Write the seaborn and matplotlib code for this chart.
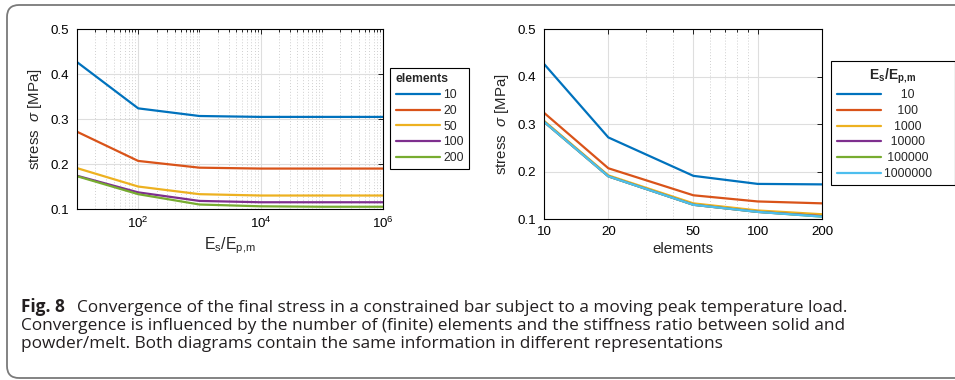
import numpy as np
import pandas as pd
import matplotlib
matplotlib.use("Agg")
import matplotlib.pyplot as plt
import seaborn as sns
from matplotlib.ticker import FixedLocator, FixedFormatter, NullFormatter, LogFormatterSciNotation
from matplotlib.patches import FancyBboxPatch
from matplotlib.transforms import IdentityTransform
from matplotlib.lines import Line2D

# ---------------- data ----------------
ratios = [10, 100, 1000, 10000, 100000, 1000000]
elements = [10, 20, 50, 100, 200]
stress_e10 = [0.427, 0.324, 0.307, 0.305, 0.305, 0.305]
stress_e20 = [0.272, 0.207, 0.192, 0.190, 0.190, 0.190]
stress_e50 = [0.191, 0.150, 0.133, 0.130, 0.130, 0.130]
stress_e100 = [0.174, 0.137, 0.118, 0.115, 0.115, 0.115]
stress_e200 = [0.173, 0.133, 0.110, 0.106, 0.105, 0.105]
stress_by_elements = [stress_e10, stress_e20, stress_e50, stress_e100, stress_e200]

yticks = [0.1, 0.2, 0.3, 0.4, 0.5]
left_xticks = [1e2, 1e4, 1e6]
right_xticks = [10, 20, 50, 100, 200]
right_minor = [30, 40, 60, 70, 80, 90]

caption_bold = "Fig. 8"
caption_lines = [
    "Convergence of the final stress in a constrained bar subject to a moving peak temperature load.",
    "Convergence is influenced by the number of (finite) elements and the stiffness ratio between solid and",
    "powder/melt. Both diagrams contain the same information in different representations",
]

rows = []
for e, vals in zip(elements, stress_by_elements):
    for r, v in zip(ratios, vals):
        rows.append({"elements": e, "ratio": r, "stress": v,
                     "elem_lbl": str(e), "ratio_lbl": str(r)})
df = pd.DataFrame(rows)

matlab = ["#0072BD", "#D95319", "#EDB120", "#7E2F8E", "#77AC30", "#4DBEEE"]

# ---------------- style ----------------
sns.set_style("white")
plt.rcParams["font.family"] = ["Liberation Sans", "DejaVu Sans"]
plt.rcParams["mathtext.fontset"] = "custom"
plt.rcParams["mathtext.rm"] = "Liberation Sans"
plt.rcParams["mathtext.it"] = "Liberation Sans:italic"
plt.rcParams["mathtext.bf"] = "Liberation Sans:bold"

W, H = 955, 380
fig = plt.figure(figsize=(W / 100, H / 100), dpi=100)

def px_rect(x0, y0, x1, y1):
    return [x0 / W, 1 - y1 / H, (x1 - x0) / W, (y1 - y0) / H]

ax1 = fig.add_axes(px_rect(77, 29.3, 383, 209))
ax2 = fig.add_axes(px_rect(544, 29.3, 822, 219))

TFS = 9.6   # tick labels
LFS = 10.8  # axis labels
GFS = 8.8   # legend
LW = 1.6

sns.lineplot(data=df, x="ratio", y="stress", hue="elem_lbl",
             hue_order=[str(e) for e in elements], palette=matlab[:5],
             linewidth=LW, ax=ax1, legend=False)
sns.lineplot(data=df, x="elements", y="stress", hue="ratio_lbl",
             hue_order=[str(r) for r in ratios], palette=matlab,
             linewidth=LW, ax=ax2, legend=False)

for ax in (ax1, ax2):
    ax.set_xscale("log")
    ax.set_ylim(0.1, 0.5)
    ax.set_yticks(yticks)
    ax.set_yticklabels([f"{t:.1f}" for t in yticks])
    for s in ax.spines.values():
        s.set_color("black")
        s.set_linewidth(0.8)
    ax.tick_params(which="both", direction="in", top=True, right=True,
                   labelsize=TFS, colors="black", width=0.6)
    ax.tick_params(which="major", length=3.5)
    ax.tick_params(axis="y", which="major", pad=6)
    ax.tick_params(axis="x", which="major", pad=5)
    ax.tick_params(which="minor", length=1.8)
    ax.grid(True, which="major", color="#dedede", linewidth=0.8, linestyle="-")
    ax.grid(True, which="minor", color="#cfcfcf", linewidth=0.7, linestyle=(0, (1, 2)))
    ax.set_axisbelow(True)
    ax.set_ylabel("stress  $\\sigma$ [MPa]", fontsize=LFS)

# left axes
ax1.set_xlim(10, 1e6)
ax1.xaxis.set_major_locator(FixedLocator(left_xticks))
ax1.xaxis.set_major_formatter(LogFormatterSciNotation())
minors = [k * 10.0 ** d for d in range(1, 6) for k in range(1, 10)]
minors = [m for m in minors if m not in left_xticks]
ax1.xaxis.set_minor_locator(FixedLocator(minors))
ax1.xaxis.set_minor_formatter(NullFormatter())
ax1.set_xlabel("$\\mathrm{E_s/E_{p{,}m}}$", fontsize=LFS + 0.6)
ax1.xaxis.set_label_coords(0.5, -0.145)
ax1.yaxis.set_label_coords(-0.108, 0.5)

# right axes
ax2.set_xlim(10, 200)
ax2.xaxis.set_major_locator(FixedLocator(right_xticks))
ax2.xaxis.set_major_formatter(FixedFormatter([str(t) for t in right_xticks]))
ax2.xaxis.set_minor_locator(FixedLocator(right_minor))
ax2.xaxis.set_minor_formatter(NullFormatter())
ax2.set_xlabel("elements", fontsize=LFS)
ax2.xaxis.set_label_coords(0.5, -0.12)
ax2.yaxis.set_label_coords(-0.119, 0.5)

# legends
h1 = [Line2D([], [], color=c, lw=LW) for c in matlab[:5]]
leg1 = fig.legend(h1, [str(e) for e in elements], title="elements",
                  loc="upper left", bbox_to_anchor=(390 / W, 1 - 68 / H),
                  fontsize=GFS, title_fontproperties={"weight": "bold", "size": GFS},
                  frameon=True, fancybox=False, framealpha=1, edgecolor="black",
                  handlelength=3.6, handletextpad=0.3, labelspacing=0.3,
                  borderpad=0.45, borderaxespad=0, alignment="left")
leg1.get_frame().set_linewidth(0.8)

lbl2 = [str(r) for r in ratios]
maxlen = max(len(s) for s in lbl2)
lbl2_pad = [" " * (maxlen - len(s)) + s + " " * (maxlen - len(s) + 5) for s in lbl2]
h2 = [Line2D([], [], color=c, lw=LW) for c in matlab]
leg2 = fig.legend(h2, lbl2_pad, title="$\\mathbf{E_s/E_{p{,}m}}$",
                  loc="upper left", bbox_to_anchor=(831 / W, 1 - 61 / H),
                  fontsize=GFS, title_fontproperties={"weight": "bold", "size": GFS + 1.2},
                  frameon=True, fancybox=False, framealpha=1, edgecolor="black",
                  handlelength=3.6, handletextpad=0.3, labelspacing=0.3,
                  borderpad=0.45, borderaxespad=0, alignment="center")
leg2.get_frame().set_linewidth(0.8)

fig.canvas.draw()
bb = leg2.get_window_extent()
tb = leg2.get_title().get_window_extent()
ysep = tb.y0 - 4
fig.add_artist(Line2D([bb.x0, bb.x1], [ysep, ysep], color="black", lw=0.8,
                      transform=IdentityTransform()))

# caption
cap_font = ["Open Sans", "DejaVu Sans"]
cap_col = "#231f20"
t_b = fig.text(21 / W, 1 - 312 / H, caption_bold, fontsize=10, fontweight="bold",
               family=cap_font, color=cap_col, va="baseline")
t1 = fig.text(91 / W, 1 - 312 / H, caption_lines[0], fontsize=10,
              family=cap_font, color=cap_col, va="baseline")
t2 = fig.text(21 / W, 1 - 330 / H, caption_lines[1], fontsize=10,
              family=cap_font, color=cap_col, va="baseline")
t3 = fig.text(21 / W, 1 - 348 / H, caption_lines[2], fontsize=10,
              family=cap_font, color=cap_col, va="baseline")
fig.canvas.draw()
w2 = t2.get_window_extent().width
scale = (845 - 21) / w2
for t in (t_b, t1, t2, t3):
    t.set_fontsize(10 * scale)
fig.canvas.draw()
wb = t_b.get_window_extent()
t1.set_x((wb.x1 + 12) / W)

# frame
frame = FancyBboxPatch((7, 2), 1100, 373, boxstyle="round,pad=0,rounding_size=12",
                       transform=IdentityTransform(), fill=False,
                       edgecolor="#7a7a7a", linewidth=1.3)
fig.add_artist(frame)

fig.savefig("out.png", dpi=100)
